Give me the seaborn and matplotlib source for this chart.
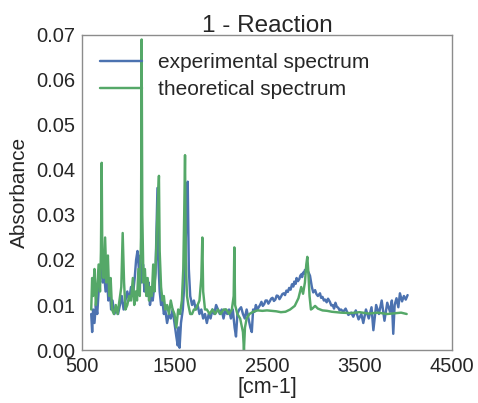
import matplotlib
matplotlib.use("Agg")
import matplotlib.pyplot as plt
import seaborn as sns
import pandas as pd

exp_x = [600, 610, 620, 635, 650, 665, 680, 695, 710, 725, 740, 755, 770, 785, 800, 815, 830, 850, 870, 890,
         910, 930, 950, 970, 990, 1010, 1030, 1050, 1070, 1085, 1100, 1115, 1130, 1145, 1160, 1175, 1190, 1205,
         1220, 1235, 1250, 1265, 1280, 1295, 1305, 1316, 1325, 1340, 1355, 1370, 1385, 1400, 1420, 1440, 1460,
         1480, 1500, 1520, 1535, 1545, 1555, 1570, 1590, 1610, 1625, 1643, 1655, 1670, 1690, 1710, 1730, 1750,
         1770, 1790, 1810, 1830, 1850, 1870, 1890, 1910, 1930, 1950, 1970, 1990, 2010, 2030, 2050, 2070, 2090,
         2110, 2130, 2150, 2165, 2180, 2200, 2220, 2240, 2260, 2280, 2300, 2320, 2336, 2350, 2365, 2380, 2395,
         2410, 2425, 2440, 2455, 2470, 2485, 2500, 2515, 2530, 2545, 2560, 2575, 2590, 2605, 2620, 2635, 2650,
         2665, 2680, 2695, 2710, 2725, 2740, 2755, 2770, 2785, 2795, 2810, 2820, 2835, 2850, 2860, 2870, 2880,
         2890, 2900, 2910, 2920, 2930, 2940, 2950, 2965, 2985, 3000, 3020, 3035, 3050, 3073, 3085, 3100, 3115,
         3130, 3145, 3160, 3180, 3195, 3210, 3225, 3240, 3255, 3270, 3285, 3300, 3325,
         3350, 3380, 3410, 3433, 3460, 3490, 3520, 3541, 3570, 3600, 3630, 3650, 3680, 3710, 3740, 3770, 3800,
         3830, 3850, 3865, 3880, 3900, 3920, 3937, 3960, 3980, 4000, 4020]
exp_y = [0.008, 0.004, 0.009, 0.006, 0.010, 0.008, 0.013, 0.016, 0.019, 0.015, 0.017, 0.013, 0.016, 0.011,
         0.014, 0.009, 0.011, 0.008, 0.009, 0.008, 0.010, 0.012, 0.009, 0.011, 0.013, 0.011, 0.014, 0.012,
         0.016, 0.020, 0.022, 0.018, 0.021, 0.015, 0.019, 0.013, 0.016, 0.012, 0.015, 0.010, 0.012, 0.011,
         0.014, 0.017, 0.026, 0.036, 0.020, 0.013, 0.010, 0.011, 0.008, 0.009, 0.006, 0.008, 0.007, 0.009,
         0.006, 0.003, 0.001, 0.005, 0.0005, 0.006, 0.009, 0.016, 0.027, 0.0374, 0.018, 0.012, 0.010, 0.011,
         0.009, 0.010, 0.008, 0.009, 0.007, 0.008, 0.006, 0.008, 0.007, 0.009, 0.008, 0.010, 0.009, 0.008,
         0.009, 0.007, 0.009, 0.008, 0.009, 0.007, 0.009, 0.005, 0.003, 0.008, 0.009, 0.0095, 0.008, 0.007,
         0.009, 0.007, 0.005, 0.004, 0.009, 0.0085, 0.010, 0.0090, 0.0095, 0.0100, 0.0107, 0.0098, 0.0102,
         0.0110, 0.0110, 0.0103, 0.0108, 0.0114, 0.0116, 0.0109, 0.0112, 0.0121, 0.0120, 0.0113, 0.0118,
         0.0124, 0.0126, 0.0122, 0.0132, 0.0129, 0.0138, 0.0134, 0.0146, 0.0141, 0.0152, 0.0147, 0.0160,
         0.0153, 0.0158, 0.0165, 0.0168, 0.0162, 0.0172, 0.0169, 0.0178, 0.0174, 0.0180, 0.0176, 0.0172,
         0.0165, 0.0140, 0.0128, 0.0133, 0.0124, 0.0120, 0.0126, 0.0116, 0.0118, 0.0110, 0.0112, 0.0106,
         0.0114, 0.0107, 0.0099, 0.0100, 0.0092, 0.0105, 0.0096, 0.0094, 0.0088, 0.0090, 0.0085, 0.0092,
         0.0078, 0.0083, 0.0074, 0.0088, 0.0068, 0.0080, 0.0060, 0.0090, 0.0070, 0.0095, 0.0044, 0.0100,
         0.0080, 0.0110, 0.0065, 0.0105, 0.0085, 0.0110, 0.0036, 0.0100, 0.0115, 0.0095, 0.0126, 0.0108,
         0.0120, 0.0112, 0.0122]

theo_x = [600, 610, 620, 635, 650, 665, 680, 695, 705, 713, 720, 735, 750, 765, 780, 795, 810, 825, 845, 865,
          885, 905, 925, 940, 955, 970, 990, 1010, 1030, 1050, 1065, 1080, 1095, 1110, 1125, 1138, 1145, 1152,
          1165, 1180, 1195, 1210, 1225, 1240, 1255, 1270, 1285, 1300, 1315, 1325, 1332, 1340, 1355, 1370, 1385,
          1400, 1420, 1440, 1460, 1480, 1500, 1520, 1540, 1560, 1580, 1595, 1605, 1614, 1622, 1635, 1650, 1670,
          1690, 1710, 1730, 1750, 1770, 1790, 1801, 1810, 1830, 1850, 1880, 1910, 1940, 1970, 2000, 2030, 2060,
          2090, 2120, 2140, 2147, 2155, 2180, 2210, 2240, 2251, 2262, 2280, 2310, 2350, 2400, 2450, 2500, 2550,
          2600, 2650, 2700, 2750, 2800, 2840, 2870, 2890, 2910, 2925, 2936, 2945, 2960, 2975, 2990, 3020, 3050,
          3100, 3150, 3200, 3300, 3400, 3500, 3600, 3700, 3800, 3900, 3950, 4010]
theo_y = [0.009, 0.016, 0.012, 0.018, 0.010, 0.014, 0.019, 0.013, 0.022, 0.0416, 0.020, 0.016, 0.025, 0.015,
          0.021, 0.012, 0.016, 0.009, 0.008, 0.010, 0.008, 0.011, 0.014, 0.026, 0.015, 0.009, 0.010, 0.012,
          0.011, 0.016, 0.010, 0.013, 0.011, 0.018, 0.012, 0.025, 0.069, 0.030, 0.015, 0.018, 0.012, 0.016,
          0.011, 0.014, 0.012, 0.019, 0.013, 0.021, 0.030, 0.035, 0.0387, 0.022, 0.014, 0.011, 0.012, 0.009,
          0.010, 0.008, 0.011, 0.009, 0.008, 0.005, 0.009, 0.008, 0.011, 0.018, 0.030, 0.0433, 0.020, 0.012,
          0.010, 0.008, 0.008, 0.009, 0.009, 0.010, 0.011, 0.016, 0.025, 0.013, 0.009, 0.009, 0.008, 0.009,
          0.008, 0.009, 0.008, 0.009, 0.009, 0.008, 0.009, 0.012, 0.0228, 0.010, 0.008, 0.007, 0.004, 0.000,
          0.005, 0.007, 0.008, 0.0085, 0.0088, 0.0087, 0.0088, 0.0087, 0.0086, 0.0084, 0.0085, 0.0090, 0.0098,
          0.0115, 0.0140, 0.0125, 0.0150, 0.0190, 0.0207, 0.0180, 0.0120, 0.0090, 0.0092, 0.0098, 0.0092,
          0.0088, 0.0087, 0.0085, 0.0083, 0.0082, 0.0084, 0.0081, 0.0083, 0.0080, 0.0082, 0.0083, 0.0080]

title = "1 - Reaction"
xlabel = "[cm-1]"
ylabel = "Absorbance"
x_ticks = [500, 1500, 2500, 3500, 4500]
y_ticks = [0.00, 0.01, 0.02, 0.03, 0.04, 0.05, 0.06, 0.07]

sns.set_style("white")
plt.rcParams['font.family'] = ['Liberation Sans', 'DejaVu Sans']
plt.rcParams['text.color'] = '.15'
plt.rcParams['axes.labelcolor'] = '.15'
plt.rcParams['xtick.color'] = '.15'
plt.rcParams['ytick.color'] = '.15'

fig = plt.figure(figsize=(4.78, 4.03), dpi=100)
ax = fig.add_axes([0.1715, 0.1315, 0.7741, 0.7817])

blue = "#4C72B0"
green = "#55A868"
df_e = pd.DataFrame({"x": exp_x, "y": exp_y})
df_t = pd.DataFrame({"x": theo_x, "y": theo_y})
sns.lineplot(data=df_e, x="x", y="y", ax=ax, color=blue, lw=1.75, label="experimental spectrum", sort=False)
sns.lineplot(data=df_t, x="x", y="y", ax=ax, color=green, lw=1.75, label="theoretical spectrum", sort=False)

ax.set_xlim(500, 4500)
ax.set_ylim(0, 0.07)
ax.set_xticks(x_ticks)
ax.set_yticks(y_ticks)
ax.set_yticklabels([f"{v:.2f}" for v in y_ticks])
ax.tick_params(length=0, pad=5, labelsize=14.5)
ax.set_xlabel(xlabel, fontsize=15.5, labelpad=1)
ax.set_ylabel(ylabel, fontsize=15, labelpad=5)
ax.set_title(title, fontsize=17.5, pad=2)
for s in ax.spines.values():
    s.set_color('0.55')
    s.set_linewidth(1.0)
leg = ax.legend(loc="upper left", frameon=False, fontsize=15, borderaxespad=0.47,
                labelspacing=0.4, handlelength=2.0, handletextpad=0.8)

fig.savefig("out.png", dpi=100)
